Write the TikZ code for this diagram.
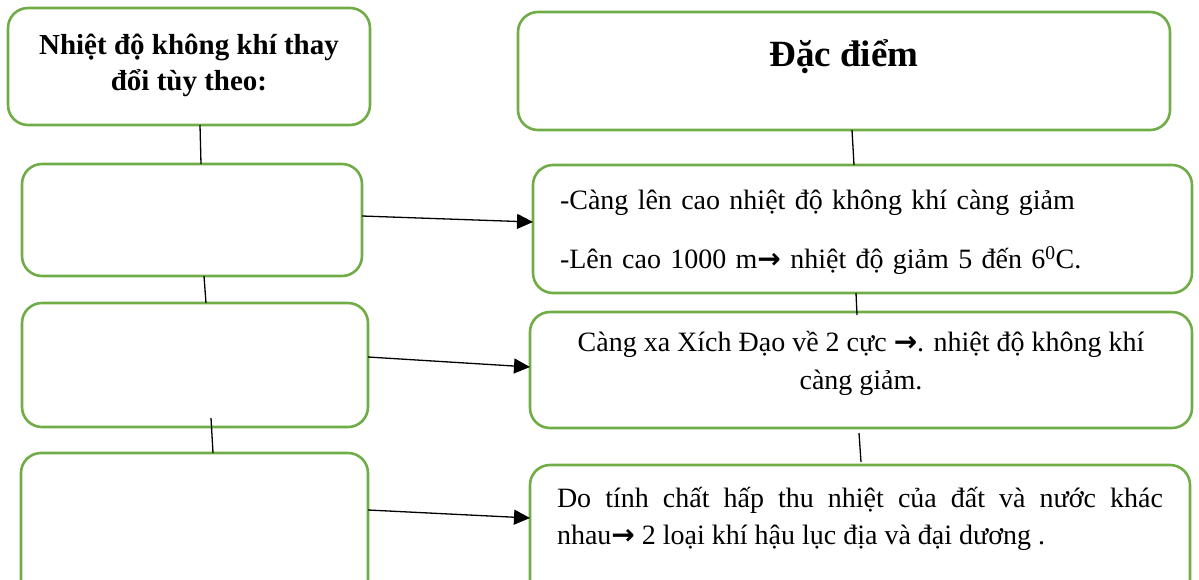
\documentclass[tikz,border=0pt]{standalone}
\usepackage{fontspec}
\setmainfont{Liberation Serif}
\newfontfamily\arrowfont{DejaVu Sans}
\usetikzlibrary{arrows.meta}
\definecolor{boxgreen}{RGB}{112,173,71}

\begin{document}
\begin{tikzpicture}[
    x = 1pt,
    y = -1pt,
    >={Triangle[length=16pt, width=15pt]},
    box/.style = {draw=boxgreen, line width=2.6pt, rounded corners=20pt,
              anchor=north west, inner sep=0pt, outer sep=0pt},
    link/.style = {black, line width=1.3pt},
    body/.style = {font=\fontsize{28}{37}\selectfont},
    ]

\clip (0,0) rectangle (1199,579);

% left column
\node[box, minimum width=362pt, minimum height=117pt, align=center,
      text height=62pt, text depth=15pt,
      font=\bfseries\fontsize{29}{36}\selectfont] (factor_head) at (8,8)
      {Nhiệt độ không khí thay\\đổi tùy theo:};
\node[box, minimum width=340pt, minimum height=112pt] (factor_1) at (22,164){};
\node[box, minimum width=346pt, minimum height=124pt] (factor_2) at (22,303){};
\node[box, minimum width=347pt, minimum height=160pt] (factor_3) at (21,453){};

% right column
\node[box, minimum width=652pt, minimum height=118pt, text height=33pt, text depth=43pt,
      font=\bfseries\fontsize{37}{44}\selectfont] (trait_head) at (518,12) {Đặc điểm};
\node[box, body, minimum width=659pt, minimum height=128pt, inner xsep=27pt,
      text width=605pt, align=left, text height=26pt, text depth=65pt] (trait_1) at (533,165)
      {-Càng lên cao nhiệt độ không khí càng giảm\\[22pt]-Lên cao 1000 m{\arrowfont\bfseries →} nhiệt độ giảm 5 đến 6\textsuperscript{0}C.};
\node[box, body, minimum width=662pt, minimum height=116pt, align=center,
      font=\fontsize{28}{38}\selectfont, text height=64pt, text depth=25pt] (trait_2) at (530,312)
      {Càng xa Xích Đạo về 2 cực {\arrowfont\bfseries →}. nhiệt độ không khí\\càng giảm.};
\node[box, body, inner xsep=27pt, inner ysep=23pt, text width=606pt, align=justify,
      text height=19pt, text depth=90pt] (trait_3) at (530,465)
      {Do tính chất hấp thu nhiệt của đất và nước khác\linebreak nhau{\arrowfont\bfseries →} 2 loại khí hậu lục địa và đại dương .};

% vertical links
\draw [link] ([xshift=11pt]factor_head.south) -- ([xshift=9pt]factor_1.north);
\draw [link] ([xshift=12pt]factor_1.south) -- ([xshift=11pt]factor_2.north);
\draw [link] ([xshift=16pt, yshift=9pt]factor_2.south) -- ([xshift=18.5pt]factor_3.north);
\draw [link] ([xshift=8pt]trait_head.south) -- ([xshift=-8.5pt]trait_1.north);
\draw [link] ([xshift=-6.5pt]trait_1.south) -- ([xshift=-4pt, yshift=-3pt]trait_2.north);
\draw [link] ([xshift=-2pt, yshift=-5pt]trait_2.south) -- ([xshift=1pt, yshift=3pt]trait_3.north);

% arrows
\draw [link, ->] ([yshift=4pt]factor_1.east) -- ([yshift=7pt]trait_1.west);
\draw [link, ->] ([yshift=8pt]factor_2.east) -- ([yshift=3pt]trait_2.west);
\draw [link, ->] ([yshift=23pt]factor_3.east) -- ([yshift=24.5pt]trait_3.west);

\end{tikzpicture}
\end{document}
